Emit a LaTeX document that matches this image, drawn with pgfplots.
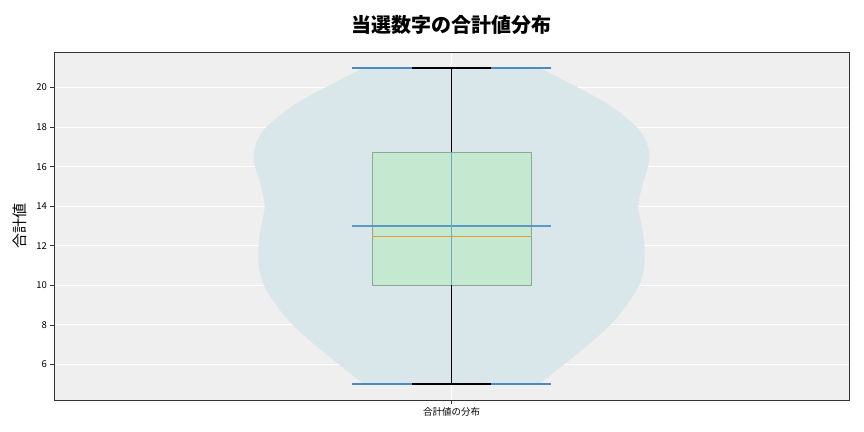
\documentclass[border=0pt]{standalone}
\usepackage{fontspec}
\setmainfont{Noto Sans CJK JP}
\usepackage{pgfplots}
\pgfplotsset{compat=1.18}
\usepgfplotslibrary{fillbetween}

\definecolor{bggray}{HTML}{EFEFEF}
\definecolor{violinfill}{HTML}{D9E6EA}
\definecolor{boxgreen}{HTML}{C5E9D0}
\definecolor{boxedge}{HTML}{8BA893}
\definecolor{mplblue}{HTML}{4A8CC2}
\definecolor{barteal}{HTML}{5CB4B6}
\definecolor{medorange}{HTML}{E89A3A}
\definecolor{framegray}{HTML}{333333}

\begin{document}
\begin{tikzpicture}
\begin{axis}[
  at={(0,0)}, anchor=south west,
  scale only axis, width=795bp, height=348bp,
  xmin=0.5, xmax=1.5, ymin=4.2, ymax=21.8,
  xtick={1}, xticklabels={合計値の分布},
  ytick={6,8,...,20},
  tick pos=left, tick align=outside,
  major tick length=3.5bp,
  tick style={framegray, line width=0.6bp},
  axis line style={framegray, line width=0.8bp},
  axis background/.style={fill=bggray},
  grid=major, major grid style={white, line width=0.9bp},
  ticklabel style={font=\fontsize{9.5bp}{11bp}\selectfont, text=black},
  /pgf/number format/assume math mode=true,
  title={当選数字の合計値分布},
  title style={font=\fontsize{20bp}{24bp}\selectfont\bfseries,
    at={(axis description cs:0.5,1)}, anchor=base, yshift=14bp},
  ylabel={合計値},
  ylabel style={font=\fontsize{15bp}{18bp}\selectfont,
    at={(axis description cs:-0.043,0.5)}, anchor=center},
]
% violin outline, half-width
\addplot[draw=none, smooth, name path=L] coordinates {
  (0.890,5.0) (0.860,5.95) (0.829,6.96) (0.801,7.97) (0.780,8.98)
  (0.764,10.0) (0.758,10.85) (0.757,11.86) (0.760,12.87) (0.765,13.95)
  (0.761,14.9) (0.753,16.0) (0.751,16.56) (0.755,17.24) (0.767,18.0)
  (0.801,19.1) (0.841,20.0) (0.890,21.0)};
\addplot[draw=none, smooth, name path=R] coordinates {
  (1.110,5.0) (1.140,5.95) (1.171,6.96) (1.199,7.97) (1.220,8.98)
  (1.236,10.0) (1.242,10.85) (1.243,11.86) (1.240,12.87) (1.235,13.95)
  (1.239,14.9) (1.247,16.0) (1.249,16.56) (1.245,17.24) (1.233,18.0)
  (1.199,19.1) (1.159,20.0) (1.110,21.0)};
\addplot[violinfill] fill between[of=L and R, reverse=true];
% box
\addplot[fill=boxgreen, draw=boxedge, line width=0.7bp] coordinates {
  (0.9,10.0) (1.1,10.0) (1.1,16.72) (0.9,16.72)} -- cycle;
% violin extrema and mean bars
\addplot[mplblue, line width=1.4bp] coordinates {(0.875,5.0) (1.125,5.0)};
\addplot[mplblue, line width=1.4bp] coordinates {(0.875,21.0) (1.125,21.0)};
\addplot[mplblue, line width=1.4bp, opacity=0.85] coordinates {(0.875,13.0) (1.125,13.0)};
\addplot[barteal, line width=1.8bp] coordinates {(1,10.0) (1,16.72)};
% whiskers and caps
\addplot[black, line width=1.4bp] coordinates {(1,5.0) (1,10.0)};
\addplot[black, line width=1.4bp] coordinates {(1,16.72) (1,21.0)};
\addplot[black, line width=1.4bp] coordinates {(0.95,5.0) (1.05,5.0)};
\addplot[black, line width=1.4bp] coordinates {(0.95,21.0) (1.05,21.0)};
% median
\addplot[medorange, line width=0.9bp] coordinates {(0.9,12.47) (1.1,12.47)};
\end{axis}
\pgfresetboundingbox
\path[use as bounding box] (-54bp,-32bp) rectangle (810bp,400bp);
\end{tikzpicture}
\end{document}
